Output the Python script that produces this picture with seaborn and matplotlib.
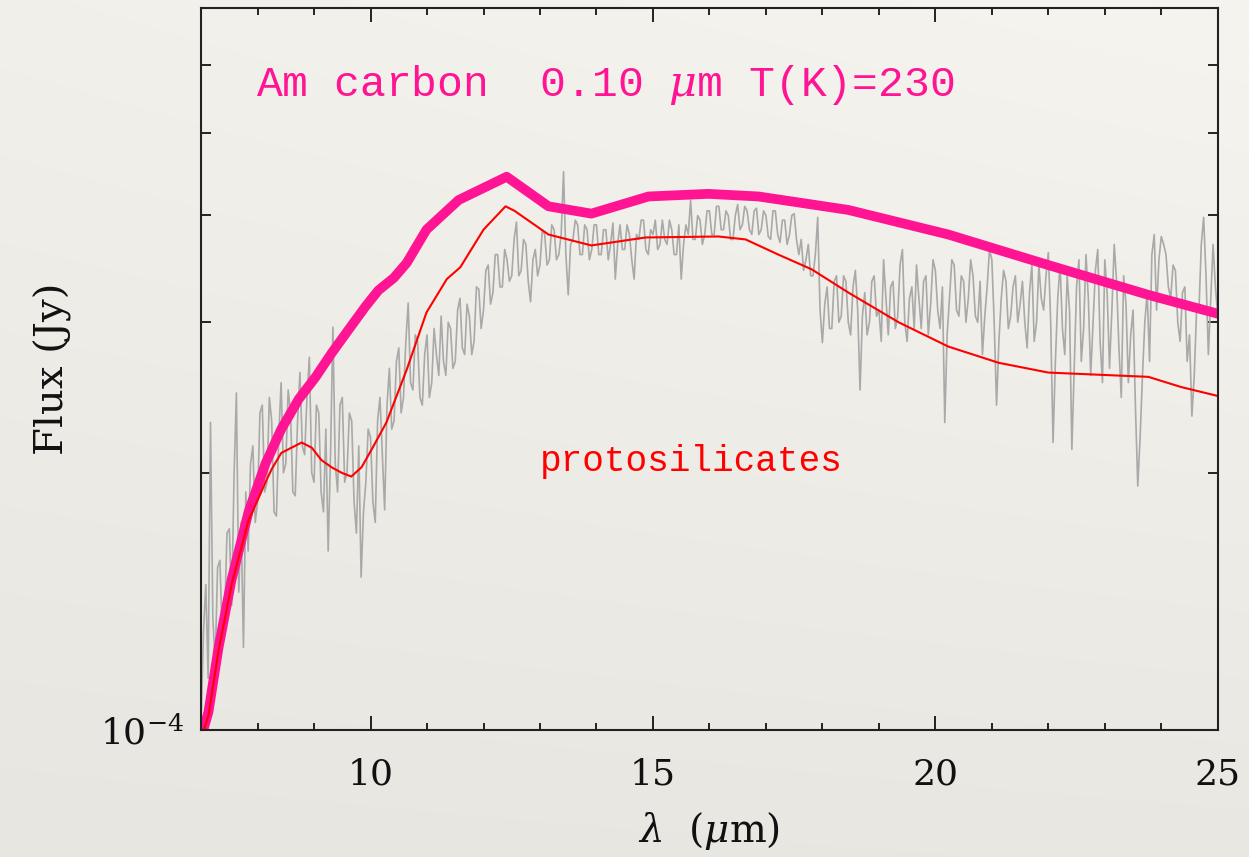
import numpy as np
import pandas as pd
import matplotlib
matplotlib.use("Agg")
import matplotlib.pyplot as plt
import seaborn as sns
from matplotlib.ticker import FixedLocator, MultipleLocator, NullFormatter, FixedFormatter

# Observed spectrum: flux in units of 1e-4 Jy, sampled every 1/24 micron from 7 to 25 micron
spec_start = 7.0
spec_step = 1.0 / 24.0
spec_flux = [
    # 7-8 um
    1.02, 1.30, 1.48, 1.15, 2.29, 1.35, 1.20, 1.55, 1.58, 1.28, 1.35, 1.70,
    1.72, 1.40, 1.98, 2.48, 1.45, 1.75, 1.25, 1.90, 1.62, 2.05, 2.15, 1.75,
    # 8-9 um
    1.85, 2.35, 2.40, 1.90, 1.95, 2.45, 2.30, 1.80, 1.78, 2.20, 2.55, 2.00,
    2.05, 2.50, 2.35, 1.90, 1.88, 2.30, 2.62, 2.15, 2.10, 2.45, 2.73, 2.00,
    # 9-10 um
    1.95, 2.40, 2.35, 1.90, 1.80, 2.25, 1.62, 2.10, 2.96, 2.05, 1.90, 2.40,
    2.45, 1.95, 2.00, 2.35, 2.30, 1.85, 1.70, 2.15, 1.51, 1.80, 1.95, 2.25,
    # 10-11 um
    2.20, 1.85, 1.75, 2.30, 2.45, 2.10, 1.81, 2.40, 2.65, 2.25, 2.30, 2.70,
    2.80, 2.35, 2.45, 2.85, 3.16, 2.55, 2.50, 2.90, 2.85, 2.45, 2.40, 2.75,
    # 11-12 um
    2.90, 2.45, 2.55, 2.95, 2.75, 2.60, 3.05, 2.70, 2.60, 3.00, 2.95, 2.65,
    2.70, 3.10, 3.20, 2.80, 2.75, 3.15, 3.05, 2.75, 2.85, 3.30, 3.28, 2.95,
    # 12-13 um
    3.10, 3.45, 3.50, 3.15, 3.25, 3.60, 3.60, 3.30, 3.30, 3.65, 3.55, 3.35,
    3.40, 3.75, 3.93, 3.40, 3.45, 3.75, 3.70, 3.35, 3.17, 3.55, 3.65, 3.40,
    # 13-14 um
    3.50, 3.85, 3.80, 3.50, 3.55, 3.90, 3.85, 3.55, 3.60, 3.80, 4.50, 3.60,
    3.23, 3.70, 3.75, 3.95, 3.90, 3.60, 3.60, 3.90, 3.85, 3.55, 3.65, 3.90,
    # 14-15 um
    3.90, 3.60, 3.60, 3.85, 3.85, 3.55, 3.70, 3.92, 3.37, 3.70, 3.90, 3.65,
    3.65, 3.90, 3.80, 3.55, 3.37, 3.80, 3.75, 3.95, 3.95, 3.65, 3.60, 3.85,
    # 15-16 um
    3.80, 3.95, 3.65, 3.70, 3.95, 3.75, 3.70, 3.95, 3.85, 3.60, 3.60, 3.90,
    3.37, 3.70, 3.90, 3.80, 4.17, 3.75, 3.75, 4.00, 3.95, 3.70, 3.80, 4.05,
    # 16-17 um
    4.05, 3.80, 3.80, 4.10, 4.10, 3.85, 3.85, 4.05, 4.00, 3.75, 3.75, 4.00,
    4.12, 3.85, 3.90, 4.10, 4.05, 3.85, 3.80, 4.05, 4.08, 3.80, 3.85, 4.05,
    # 17-18 um
    4.00, 3.78, 3.75, 4.05, 4.05, 3.80, 3.72, 3.95, 3.95, 3.70, 3.80, 4.00,
    4.02, 3.75, 3.60, 3.75, 3.45, 3.55, 3.70, 3.40, 3.40, 3.60, 3.98, 3.10,
    # 18-19 um
    2.84, 3.15, 3.30, 2.95, 2.95, 3.35, 3.40, 3.00, 3.05, 3.40, 3.35, 3.00,
    2.90, 3.30, 3.45, 3.10, 2.50, 3.05, 3.25, 2.90, 3.00, 3.35, 3.40, 3.05,
    # 19-20 um
    3.10, 2.85, 3.55, 3.20, 2.90, 3.30, 3.35, 2.95, 3.05, 3.50, 3.65, 3.00,
    2.85, 3.20, 3.30, 2.95, 3.50, 3.20, 2.95, 3.35, 3.40, 2.90, 3.15, 3.55,
    # 20-21 um
    3.45, 3.10, 2.95, 3.30, 2.29, 2.90, 3.20, 3.55, 3.50, 3.10, 3.05, 3.40,
    3.35, 3.00, 3.20, 3.55, 3.40, 3.05, 3.00, 3.35, 2.75, 3.05, 3.30, 3.65,
    # 21-22 um
    3.55, 3.00, 2.40, 2.85, 3.20, 3.45, 3.35, 2.95, 3.05, 3.30, 3.40, 3.00,
    3.15, 3.35, 3.00, 2.80, 3.25, 3.50, 2.85, 3.00, 3.50, 3.20, 3.10, 3.40,
    # 22-23 um
    3.62, 3.00, 2.17, 2.70, 3.20, 3.50, 2.95, 2.75, 3.40, 3.10, 2.13, 2.65,
    3.30, 3.55, 2.70, 2.95, 3.60, 3.20, 2.60, 3.00, 3.45, 3.65, 2.85, 2.55,
    # 23-24 um
    3.55, 3.25, 2.65, 3.10, 3.70, 3.35, 2.80, 2.45, 3.40, 3.15, 2.55, 2.90,
    3.10, 2.40, 1.93, 2.20, 2.60, 3.00, 3.25, 2.70, 3.60, 3.80, 3.10, 3.55,
    # 24-25 um
    3.78, 3.70, 3.60, 3.30, 3.20, 3.50, 3.45, 3.00, 2.85, 3.25, 3.30, 2.70,
    2.90, 2.33, 2.60, 3.10, 3.10, 3.70, 3.98, 3.40, 2.75, 3.20, 3.70, 3.30,
    3.05,
]

# Amorphous carbon model (0.10 micron grains, T = 230 K), flux in 1e-4 Jy
carbon_wave = [7.0, 7.13, 7.31, 7.54, 7.84, 8.14, 8.42, 8.73, 9.03, 9.31,
               9.61, 9.91, 10.14, 10.41, 10.64, 10.99, 11.56, 12.41, 13.15,
               13.91, 14.92, 15.98, 16.87, 18.46, 20.23, 22.0, 23.77, 25.0]
carbon_flux = [0.98, 1.05, 1.25, 1.50, 1.80, 2.05, 2.25, 2.44, 2.59, 2.76,
               2.94, 3.13, 3.27, 3.38, 3.52, 3.85, 4.17, 4.44, 4.10,
               4.02, 4.21, 4.24, 4.21, 4.06, 3.80, 3.50, 3.23, 3.07]

# Protosilicate model, flux in 1e-4 Jy
proto_wave = [7.0, 7.13, 7.31, 7.54, 7.84, 8.02, 8.14, 8.25, 8.42, 8.60, 8.78,
              8.96, 9.13, 9.31, 9.49, 9.66, 9.84, 10.02, 10.28, 10.64, 10.99,
              11.35, 11.59, 12.0, 12.39, 12.55, 13.15, 13.91, 14.87, 16.16,
              16.64, 17.22, 17.81, 18.46, 19.35, 20.23, 21.12, 22.0, 23.77,
              24.35, 25.0]
proto_flux = [0.98, 1.04, 1.24, 1.48, 1.76, 1.87, 1.95, 2.02, 2.11, 2.14, 2.17,
              2.14, 2.07, 2.03, 2.00, 1.98, 2.03, 2.13, 2.29, 2.64, 3.08,
              3.37, 3.48, 3.85, 4.10, 4.05, 3.80, 3.69, 3.77, 3.78,
              3.75, 3.60, 3.46, 3.25, 3.00, 2.81, 2.69, 2.62, 2.59,
              2.52, 2.46]

x_major = [10, 15, 20, 25]
paper_top = np.array([245, 243, 237]) / 255.0
paper_bottom = np.array([232, 230, 224]) / 255.0

sns.set_theme(style="ticks")
plt.rcParams["font.family"] = ["DejaVu Serif"]
plt.rcParams["mathtext.fontset"] = "dejavuserif"

spec_wave = spec_start + spec_step * np.arange(len(spec_flux))
spec = pd.DataFrame({"wave": spec_wave, "flux": np.array(spec_flux) * 1e-4})
carbon = pd.DataFrame({"wave": carbon_wave, "flux": np.array(carbon_flux) * 1e-4})
proto = pd.DataFrame({"wave": proto_wave, "flux": np.array(proto_flux) * 1e-4})

fig = plt.figure(figsize=(12.49, 8.57), dpi=100, facecolor=paper_top)

# paper-toned backdrop, slightly darker towards the lower left
bg = fig.add_axes([0, 0, 1, 1], zorder=-10)
gy, gx = np.mgrid[0:1:200j, 0:1:200j]
shade = np.clip(0.75 * gy + 0.25 * gx * gy + 0.1 * gx, 0, 1)
img = paper_bottom[None, None, :] + (paper_top - paper_bottom)[None, None, :] * shade[..., None]
bg.imshow(img, origin="lower", extent=[0, 1, 0, 1], aspect="auto", interpolation="bilinear")
bg.set_axis_off()

ax = fig.add_axes([0.161, 0.148, 0.814, 0.843])
ax.set_facecolor("none")

sns.lineplot(data=spec, x="wave", y="flux", ax=ax, color="#a9a9a9",
             linewidth=1.2, estimator=None, sort=False)
sns.lineplot(data=carbon, x="wave", y="flux", ax=ax, color="#ff1493",
             linewidth=7, estimator=None, sort=False, solid_joinstyle="round")
sns.lineplot(data=proto, x="wave", y="flux", ax=ax, color="#ff0000",
             linewidth=1.5, estimator=None, sort=False)

ax.set_yscale("log")
ax.set_xlim(7, 25)
ax.set_ylim(1e-4, 7e-4)

ax.xaxis.set_major_locator(FixedLocator(x_major))
ax.xaxis.set_minor_locator(MultipleLocator(1))
ax.yaxis.set_major_locator(FixedLocator([1e-4]))
ax.yaxis.set_major_formatter(FixedFormatter([r"$10^{-4}$"]))
ax.yaxis.set_minor_locator(FixedLocator([2e-4, 3e-4, 4e-4, 5e-4, 6e-4]))
ax.yaxis.set_minor_formatter(NullFormatter())

ax.tick_params(which="both", direction="in", top=True, right=True,
               color="black", width=1.2, labelsize=26, labelcolor="#111111")
ax.tick_params(axis="x", which="major", length=10, pad=20)
ax.tick_params(axis="x", which="minor", length=5)
ax.tick_params(axis="y", which="major", length=10, pad=12)
ax.tick_params(axis="y", which="minor", length=7)
for s in ax.spines.values():
    s.set_linewidth(1.5)
    s.set_color("#222222")

ax.set_xlabel(r"$\lambda$  ($\mu$m)", fontsize=28, color="#111111")
ax.set_ylabel("Flux (Jy)", fontsize=29, color="#111111")
ax.xaxis.set_label_coords(0.5, -0.11)
ax.yaxis.set_label_coords(-0.127, 0.5)

ax.text(7.98, 5.69e-4, r"Am carbon  0.10 $\mu$m T(K)=230", color="#ff1493",
        fontsize=31, family="Liberation Mono", va="center", ha="left")
ax.text(12.99, 2.06e-4, "protosilicates", color="#ff0000",
        fontsize=26, family="Liberation Mono", va="center", ha="left")

fig.savefig("out.png", dpi=100)
